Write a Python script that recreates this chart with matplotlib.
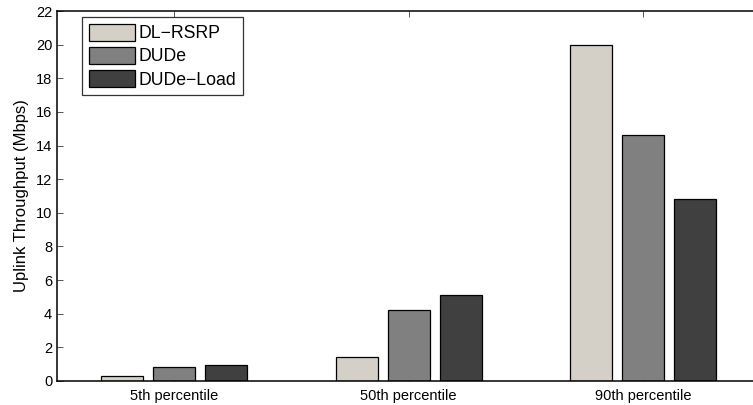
import matplotlib
matplotlib.use("Agg")
import matplotlib.pyplot as plt
import numpy as np

categories = ["5th percentile", "50th percentile", "90th percentile"]
series_names = ["DL\u2212RSRP", "DUDe", "DUDe\u2212Load"]
dl_rsrp = [0.27, 1.43, 20.0]
dude = [0.82, 4.2, 14.6]
dude_load = [0.95, 5.1, 10.8]
y_ticks = list(range(0, 23, 2))

colors = ["#d4d0c8", "#808080", "#404040"]

plt.rcParams["font.family"] = ["Liberation Sans", "DejaVu Sans"]

W, H = 753, 405
fig = plt.figure(figsize=(W / 100, H / 100), dpi=100)
left, right, top, bottom = 57, 760.5, 11, 381
ax = fig.add_axes([left / W, (H - bottom) / H, (right - left) / W, (bottom - top) / H])

x = np.arange(1, len(categories) + 1)
offset = 0.221
width = 0.179
handles = []
for i, (vals, c, name) in enumerate(zip([dl_rsrp, dude, dude_load], colors, series_names)):
    b = ax.bar(x + (i - 1) * offset, vals, width, color=c, edgecolor="black",
               linewidth=0.9, label=name, zorder=2)
    handles.append(b)

ax.set_xlim(0.5, 3.5)
ax.set_ylim(0, 22)
ax.set_yticks(y_ticks)
ax.set_xticks(x)
ax.set_xticklabels(categories)
ax.tick_params(direction="in", length=4.5, width=0.7, labelsize=10.5,
               top=True, right=True, color="#555555")
ax.tick_params(axis="x", pad=6)
ax.set_axisbelow(True)
for s in ax.spines.values():
    s.set_linewidth(1.1)
ax.set_ylabel("Uplink Throughput (Mbps)", fontsize=12, labelpad=5)

leg = ax.legend(handles=handles, loc="upper left", bbox_to_anchor=(0.036, 0.984),
                fontsize=12.7, frameon=True, fancybox=False, edgecolor="black",
                handlelength=2.6, handleheight=1.15, handletextpad=0.22,
                borderpad=0.38, labelspacing=0.25, borderaxespad=0)
leg.get_frame().set_linewidth(0.9)

fig.savefig("out.png", dpi=100)
